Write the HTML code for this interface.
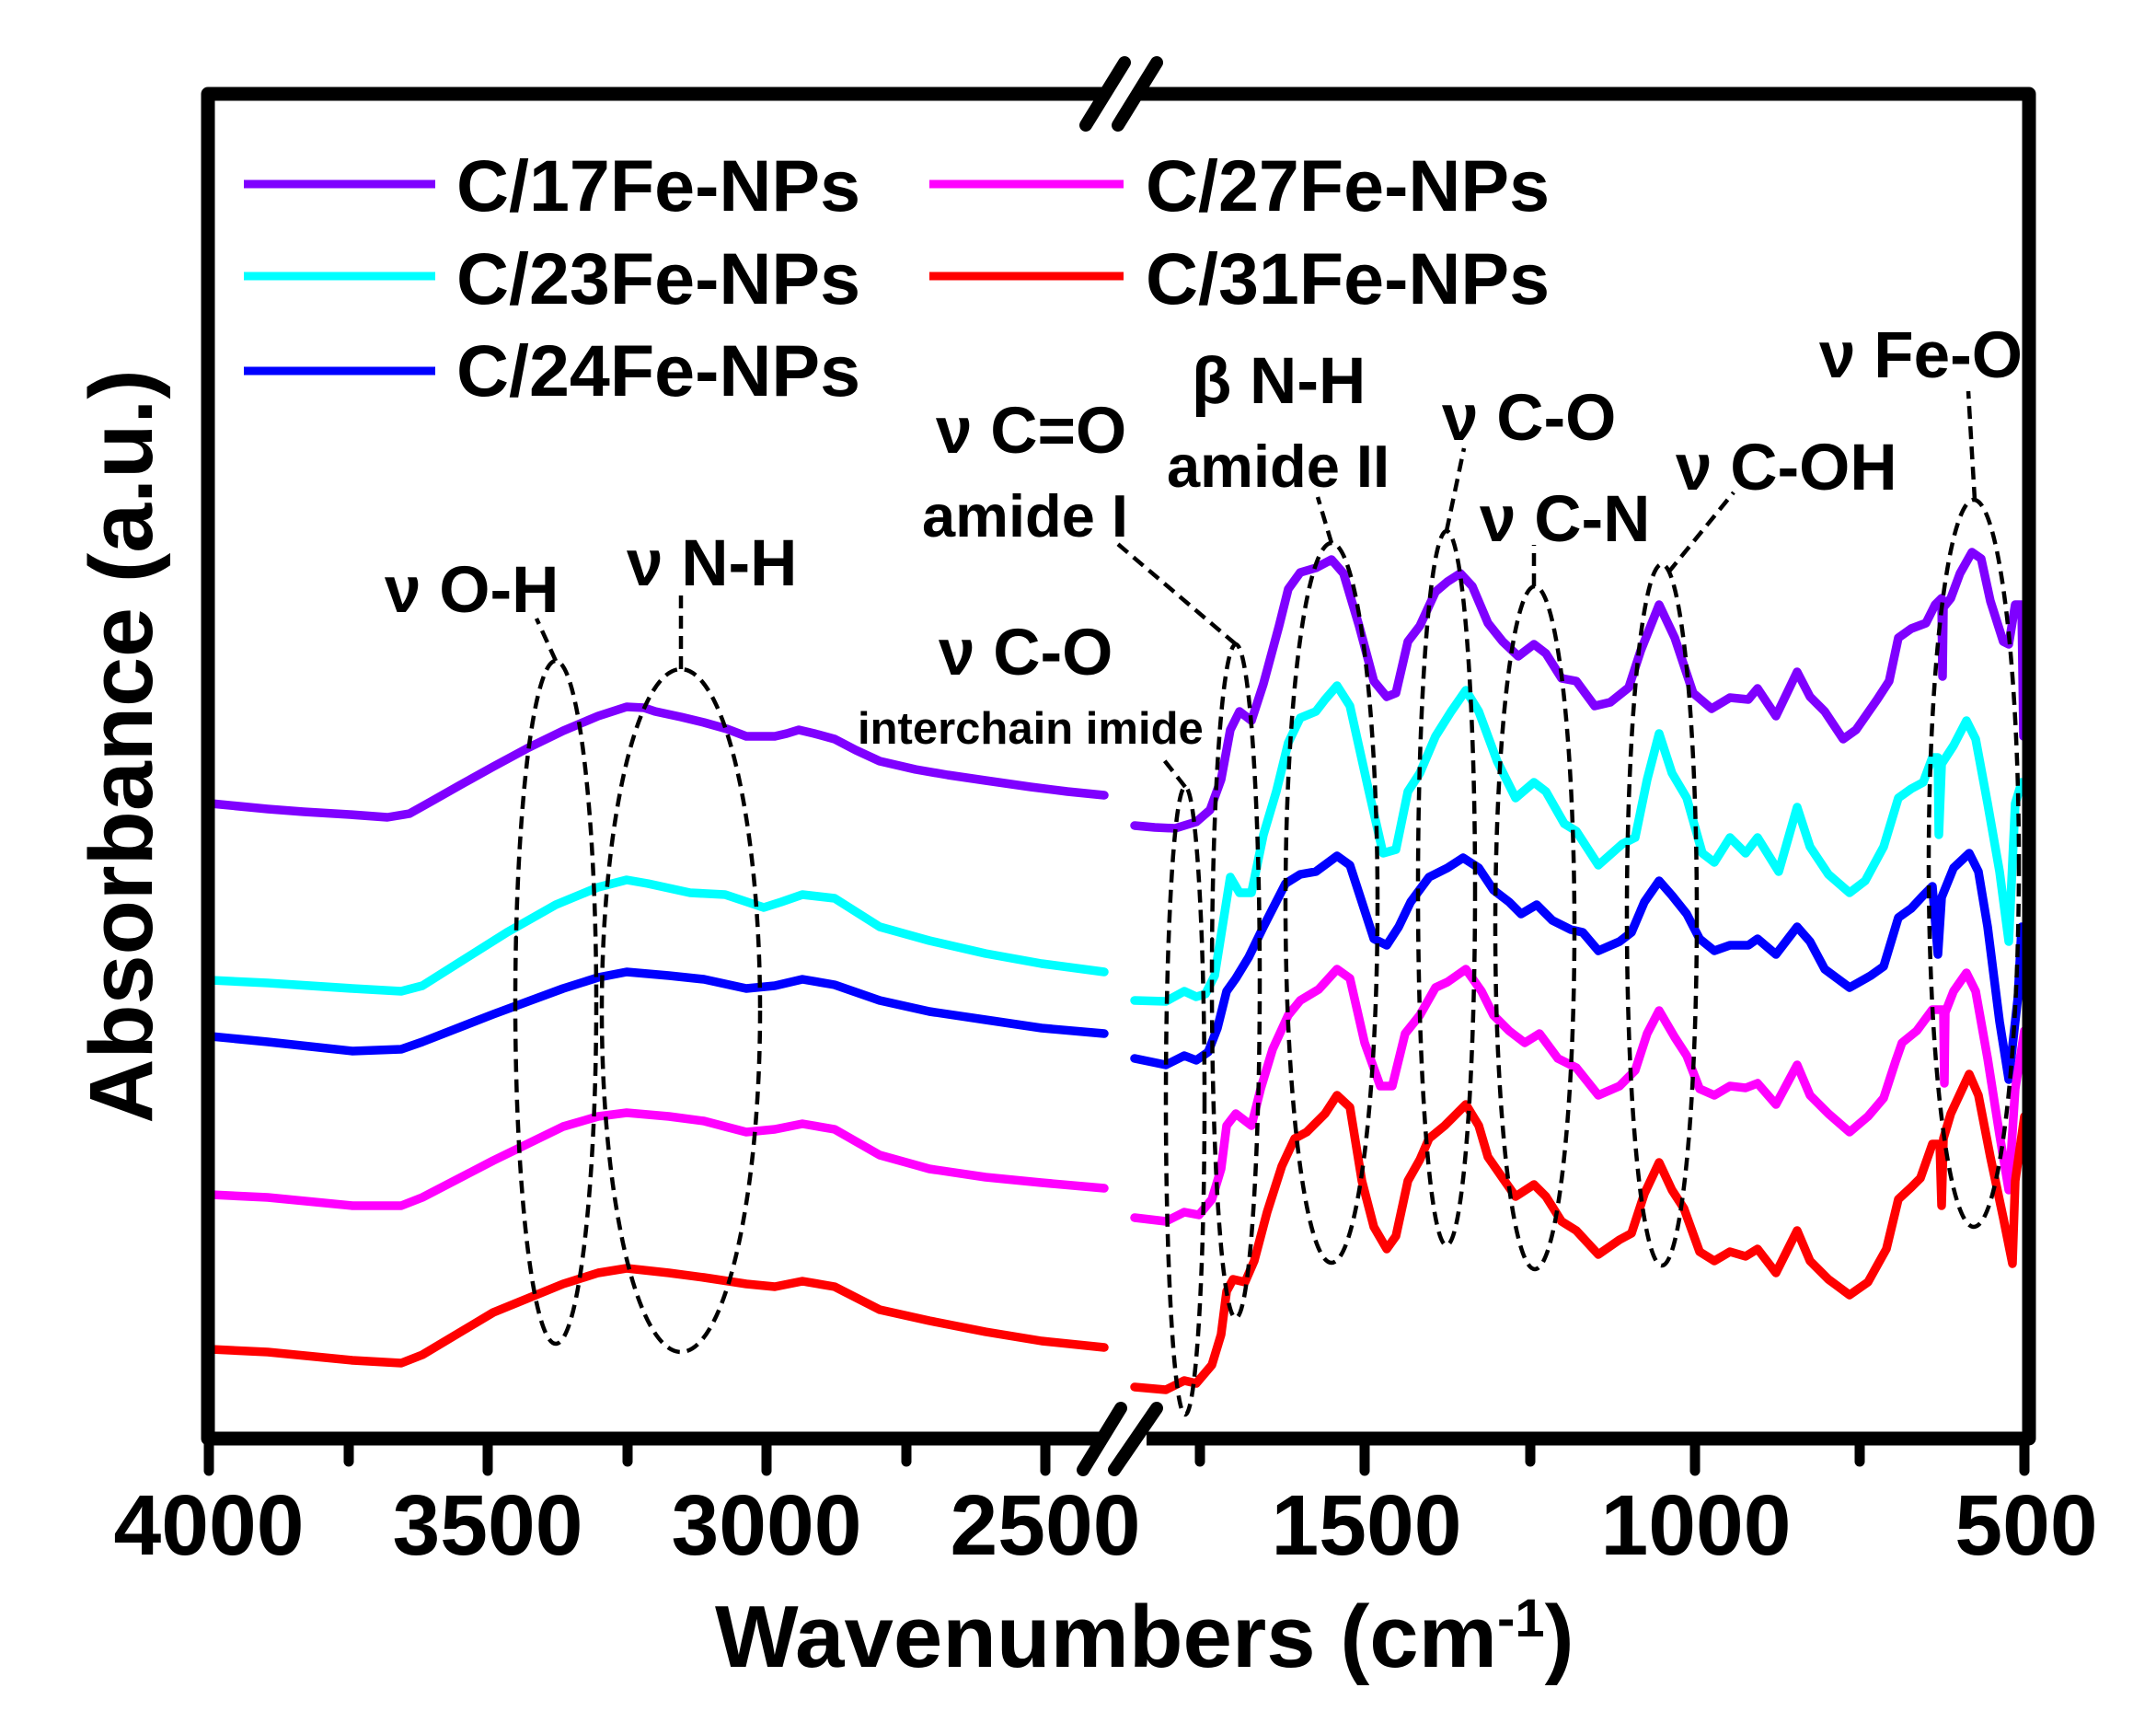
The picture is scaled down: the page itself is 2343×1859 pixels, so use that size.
<!DOCTYPE html>
<html><head><meta charset="utf-8"><style>
html,body{margin:0;padding:0;background:#fff;}
svg{display:block;}
text{font-family:"Liberation Sans",Arial,sans-serif;font-weight:bold;fill:#000;}
</style></head><body>
<svg width="2343" height="1859" viewBox="0 0 2343 1859" xmlns="http://www.w3.org/2000/svg">
<rect width="2343" height="1859" fill="#fff"/>

<g fill="none" stroke-width="9.5" stroke-linejoin="round" stroke-linecap="round">
<!-- left panel -->
<polyline stroke="#7f00ff" points="229,873 291,879 330,882 380,885 421,888 445,884 470,870 500,853 536,833 575,812 612,794 650,778 681,768 700,769 712,773 740,779 765,785 790,792 811,800 842,800 855,797 868,793 885,797 907,803 930,815 956,827 995,836 1030,842 1071,848 1120,855 1160,860 1200,864"/>
<polyline stroke="#00ffff" points="229,1065 291,1068 383,1074 436,1077 459,1071 497,1047 551,1013 604,983 650,964 681,956 704,960 750,970 788,972 830,986 849,980 872,972 907,976 956,1007 1010,1022 1071,1036 1132,1047 1200,1056"/>
<polyline stroke="#0000ff" points="229,1126 291,1132 383,1142 436,1140 459,1132 536,1102 612,1074 650,1062 681,1056 727,1060 765,1064 811,1074 842,1071 872,1064 907,1070 956,1087 1010,1099 1071,1108 1132,1117 1200,1123"/>
<polyline stroke="#ff00ff" points="229,1298 291,1301 383,1310 436,1310 459,1301 536,1261 612,1224 650,1213 681,1209 727,1213 765,1218 811,1230 842,1227 872,1221 907,1227 956,1255 1010,1270 1071,1279 1132,1285 1200,1291"/>
<polyline stroke="#ff0000" points="229,1466 291,1469 383,1478 436,1481 459,1472 536,1426 612,1395 650,1383 681,1378 727,1383 765,1388 811,1395 842,1398 872,1392 907,1398 956,1423 1010,1435 1071,1447 1132,1457 1200,1464"/>
</g>
<g stroke-width="5" stroke-linecap="butt">
<line x1="229" y1="873" x2="229" y2="930" stroke="#7f00ff"/>
<line x1="229" y1="1065" x2="229" y2="1108" stroke="#00ffff"/>
<line x1="229" y1="1126" x2="229" y2="1175" stroke="#0000ff"/>
<line x1="229" y1="1298" x2="229" y2="1350" stroke="#ff00ff"/>
<line x1="229" y1="1466" x2="229" y2="1539" stroke="#ff0000"/>
</g>

<g fill="none" stroke-width="9.5" stroke-linejoin="round" stroke-linecap="round">
<!-- right panel -->
<polyline stroke="#7f00ff" points="1233,897 1255,899 1277,900 1290,896 1300,893 1315,880 1327,847 1337,793 1347,773 1360,783 1373,743 1390,680 1400,640 1413,622 1430,617 1447,608 1460,623 1477,680 1493,740 1507,757 1517,753 1530,697 1543,680 1560,643 1573,632 1587,623 1600,637 1617,677 1633,697 1650,713 1667,700 1680,710 1697,737 1713,740 1733,767 1750,763 1770,747 1783,707 1803,657 1820,693 1840,753 1860,770 1880,758 1900,760 1910,748 1930,778 1953,730 1967,757 1983,773 2003,803 2017,793 2040,760 2053,740 2063,693 2077,683 2093,677 2103,657 2110,650 2111,735 2112,660 2120,650 2130,623 2143,600 2153,607 2163,653 2177,697 2183,700 2190,657 2197,657 2199,800"/>
<polyline stroke="#00ffff" points="1233,1087 1267,1088 1287,1077 1300,1083 1310,1080 1320,1060 1337,953 1347,970 1360,970 1373,907 1387,860 1400,807 1413,780 1430,773 1440,760 1453,745 1467,767 1487,857 1503,927 1517,923 1530,860 1543,840 1560,800 1577,773 1593,750 1607,773 1627,827 1647,867 1667,850 1680,860 1700,895 1713,903 1737,940 1763,917 1777,910 1790,847 1803,797 1817,840 1833,867 1850,927 1863,937 1880,910 1897,927 1910,910 1933,947 1953,877 1967,920 1987,950 2010,970 2027,957 2047,920 2063,867 2077,857 2090,850 2100,823 2106,823 2107,907 2110,830 2123,810 2137,783 2147,803 2160,873 2173,947 2183,1023 2190,873 2197,850"/>
<polyline stroke="#0000ff" points="1233,1150 1267,1157 1287,1147 1300,1152 1313,1143 1323,1117 1333,1077 1343,1063 1357,1040 1373,1007 1397,960 1413,950 1430,947 1453,930 1467,940 1480,980 1493,1020 1507,1027 1520,1007 1533,980 1553,953 1573,943 1590,932 1607,943 1623,967 1640,980 1653,993 1670,983 1687,1000 1707,1010 1720,1013 1737,1033 1760,1023 1773,1013 1787,980 1803,957 1817,973 1833,993 1847,1020 1863,1033 1880,1027 1900,1027 1910,1020 1930,1037 1953,1007 1967,1023 1983,1053 2010,1073 2033,1060 2047,1050 2063,997 2077,987 2090,973 2100,963 2106,1037 2110,975 2123,943 2140,927 2150,947 2160,1007 2173,1110 2183,1173 2193,1083 2197,1007"/>
<polyline stroke="#ff00ff" points="1233,1323 1267,1327 1287,1317 1303,1320 1317,1303 1327,1270 1333,1223 1343,1210 1360,1223 1370,1183 1383,1140 1400,1103 1413,1087 1433,1075 1453,1053 1467,1063 1483,1133 1500,1180 1513,1180 1527,1123 1543,1103 1560,1073 1573,1067 1593,1053 1610,1077 1623,1103 1640,1120 1657,1133 1673,1123 1693,1150 1713,1160 1737,1190 1760,1180 1777,1163 1790,1123 1803,1098 1820,1127 1833,1147 1847,1183 1863,1190 1880,1180 1897,1182 1910,1177 1930,1200 1953,1157 1967,1190 1987,1210 2010,1230 2030,1213 2047,1193 2060,1153 2067,1133 2083,1120 2100,1097 2112,1097 2113,1177 2114,1100 2123,1077 2137,1057 2147,1077 2160,1150 2173,1233 2183,1293 2190,1183 2200,1120"/>
<polyline stroke="#ff0000" points="1233,1507 1267,1510 1287,1500 1300,1503 1317,1483 1327,1450 1333,1403 1340,1390 1353,1393 1363,1370 1377,1317 1393,1267 1407,1237 1420,1230 1440,1210 1453,1190 1467,1203 1480,1283 1493,1333 1507,1357 1517,1343 1530,1283 1543,1260 1553,1237 1570,1223 1593,1200 1607,1223 1617,1257 1633,1280 1647,1300 1667,1287 1680,1300 1697,1327 1713,1337 1737,1363 1760,1347 1773,1340 1787,1297 1803,1263 1817,1293 1830,1313 1847,1360 1863,1370 1880,1360 1897,1365 1910,1357 1930,1383 1953,1337 1967,1370 1987,1390 2010,1407 2030,1393 2050,1357 2063,1303 2077,1290 2087,1280 2100,1243 2108,1243 2110,1310 2112,1237 2120,1210 2140,1167 2150,1190 2163,1257 2177,1323 2187,1373 2190,1283 2200,1213"/>
</g>

<!-- dashed ellipses and leaders -->
<g fill="none" stroke="#000" stroke-width="4.5" stroke-dasharray="14 8">
<ellipse cx="604" cy="1089" rx="44" ry="371"/>
<line x1="604" y1="718" x2="583" y2="672"/>
<ellipse cx="740" cy="1098" rx="86" ry="371"/>
<line x1="740" y1="727" x2="740" y2="642"/>
<ellipse cx="1288" cy="1196" rx="21" ry="341"/>
<line x1="1288" y1="855" x2="1262" y2="822"/>
<ellipse cx="1343" cy="1066" rx="26" ry="366"/>
<line x1="1343" y1="700" x2="1210" y2="587"/>
<ellipse cx="1447" cy="981" rx="50" ry="391"/>
<line x1="1447" y1="590" x2="1432" y2="540"/>
<ellipse cx="1572" cy="965" rx="31" ry="388"/>
<line x1="1572" y1="577" x2="1591" y2="487"/>
<ellipse cx="1668" cy="1008" rx="43" ry="371"/>
<line x1="1667" y1="637" x2="1667" y2="592"/>
<ellipse cx="1806" cy="994" rx="38" ry="381"/>
<line x1="1813" y1="622" x2="1884" y2="535"/>
<ellipse cx="2145" cy="938" rx="49" ry="395"/>
<line x1="2146" y1="543" x2="2139" y2="425"/>
</g>

<!-- frame -->
<g fill="none" stroke="#000" stroke-width="15" stroke-linejoin="round">
<path d="M1200,102 H226 V1563 H1196"/>
<path d="M1236,102 H2205 V1563 H1246"/>
</g>
<g stroke="#000" stroke-width="14" stroke-linecap="round">
<line x1="1180" y1="136" x2="1222" y2="68"/>
<line x1="1215" y1="136" x2="1257" y2="68"/>
<line x1="1177" y1="1597" x2="1218" y2="1530"/>
<line x1="1211" y1="1597" x2="1257" y2="1530"/>
</g>
<!-- ticks -->
<g stroke="#000" stroke-width="11" stroke-linecap="round">
<line x1="227" y1="1563" x2="227" y2="1598"/>
<line x1="530" y1="1563" x2="530" y2="1598"/>
<line x1="833" y1="1563" x2="833" y2="1598"/>
<line x1="1136" y1="1563" x2="1136" y2="1598"/>
<line x1="379" y1="1563" x2="379" y2="1588"/>
<line x1="682" y1="1563" x2="682" y2="1588"/>
<line x1="985" y1="1563" x2="985" y2="1588"/>
<line x1="1483" y1="1563" x2="1483" y2="1598"/>
<line x1="1842" y1="1563" x2="1842" y2="1598"/>
<line x1="2200" y1="1563" x2="2200" y2="1598"/>
<line x1="1304" y1="1563" x2="1304" y2="1588"/>
<line x1="1663" y1="1563" x2="1663" y2="1588"/>
<line x1="2021" y1="1563" x2="2021" y2="1588"/>
</g>

<!-- tick labels -->
<g font-size="93" text-anchor="middle">
<text x="227" y="1689">4000</text>
<text x="530" y="1689">3500</text>
<text x="833" y="1689">3000</text>
<text x="1136" y="1689">2500</text>
<text x="1485" y="1689">1500</text>
<text x="1843" y="1689">1000</text>
<text x="2202" y="1689">500</text>
</g>

<!-- axis titles -->
<text x="777" y="1811" font-size="96">Wavenumbers (cm<tspan dy="-33" font-size="58">-1</tspan><tspan dy="33">)</tspan></text>
<text transform="translate(165,811) rotate(-90)" text-anchor="middle" font-size="97">Absorbance (a.u.)</text>

<!-- legend -->
<g stroke-width="9" stroke-linecap="butt">
<line x1="265" y1="200" x2="473" y2="200" stroke="#7f00ff"/>
<line x1="265" y1="300" x2="473" y2="300" stroke="#00ffff"/>
<line x1="265" y1="403" x2="473" y2="403" stroke="#0000ff"/>
<line x1="1010" y1="200" x2="1221" y2="200" stroke="#ff00ff"/>
<line x1="1010" y1="300" x2="1221" y2="300" stroke="#ff0000"/>
</g>
<g font-size="79">
<text x="496" y="229">C/17Fe-NPs</text>
<text x="496" y="330">C/23Fe-NPs</text>
<text x="496" y="430">C/24Fe-NPs</text>
<text x="1245" y="229">C/27Fe-NPs</text>
<text x="1245" y="330">C/31Fe-NPs</text>
</g>

<!-- annotations -->
<g font-size="71">
<text x="418" y="665">ν O-H</text>
<text x="681" y="636">ν N-H</text>
<text x="1017" y="492">ν C=O</text>
<text x="1020" y="733">ν C-O</text>
<text x="1295" y="438">β N-H</text>
<text x="1567" y="478">ν C-O</text>
<text x="1608" y="588">ν C-N</text>
<text x="1821" y="532">ν C-OH</text>
<text x="1977" y="410">ν Fe-O</text>
</g>
<g font-size="65">
<text x="1002" y="583">amide I</text>
<text x="1268" y="529">amide II</text>
</g>
<text x="932" y="808" font-size="49">interchain imide</text>
</svg>
</body></html>
